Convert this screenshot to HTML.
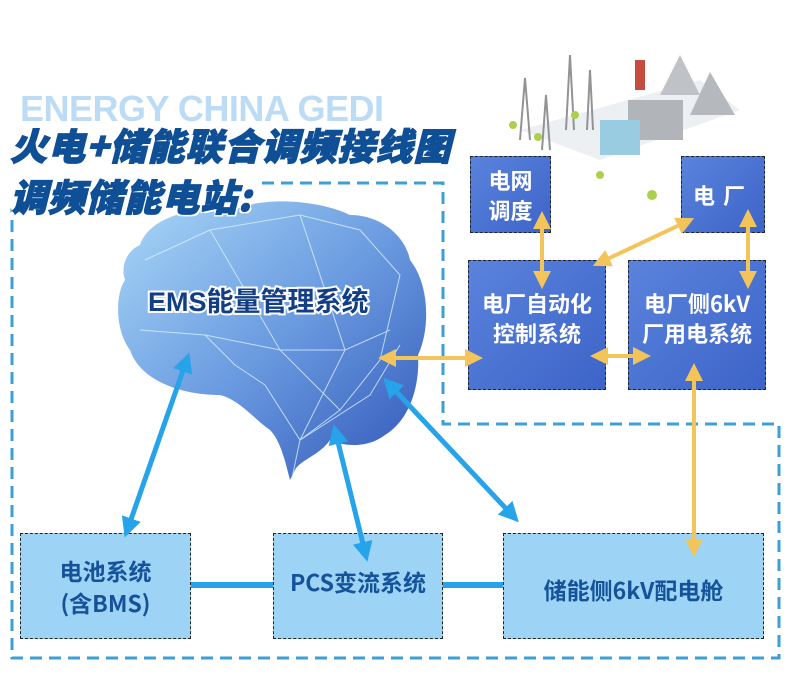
<!DOCTYPE html>
<html><head><meta charset="utf-8"><style>
body{margin:0;width:792px;height:676px;background:#fff;overflow:hidden;position:relative;font-family:"Liberation Sans","Noto Sans CJK SC",sans-serif}
.t{position:absolute;font-weight:900;font-style:italic;color:#0f4f96;font-size:37px;letter-spacing:1px;white-space:nowrap;font-family:"Noto Sans CJK SC",sans-serif;-webkit-text-stroke:1.2px #0f4f96;text-shadow:2px 2px 0 #fff,-2px -2px 0 #fff,2px -2px 0 #fff,-2px 2px 0 #fff}
.b{position:absolute;box-sizing:border-box;border:1px dashed #222;display:flex;align-items:center;justify-content:center;text-align:center;font-weight:bold;font-family:"Noto Sans CJK SC",sans-serif}
.d{background:linear-gradient(135deg,#5a83dc,#3d64c8);color:#fff;font-size:22px;line-height:30px}
.l{background:#9dd4f6;color:#15529a;font-size:23px;line-height:32px}
svg{position:absolute;left:0;top:0}
</style></head><body>
<svg width="792" height="676">
<defs>
<linearGradient id="g" x1="0" y1="0" x2="1" y2="1"><stop offset="0" stop-color="#a9d8f7"/><stop offset="0.5" stop-color="#6b9be0"/><stop offset="1" stop-color="#2f55b8"/></linearGradient>
</defs>
<g opacity="0.9">
<path d="M520 130 L700 80 L740 110 L600 160 Z" fill="#eceff2"/>
<path d="M660 95 L680 55 L700 95 Z" fill="#b9bcc0"/><path d="M690 115 L710 72 L735 115 Z" fill="#aeb1b5"/>
<rect x="635" y="60" width="10" height="30" fill="#c0392b"/>
<rect x="628" y="100" width="55" height="40" fill="#a9adb2"/>
<rect x="600" y="120" width="40" height="35" fill="#8ec7de"/>
<g stroke="#888" stroke-width="2" fill="none"><path d="M520 140 L525 78 L530 140"/><path d="M542 150 L546 95 L550 150"/><path d="M566 130 L570 55 L574 130"/><path d="M587 130 L590 70 L593 130"/></g>
<g fill="#a4cc3a"><circle cx="513" cy="125" r="4"/><circle cx="538" cy="137" r="4"/><circle cx="575" cy="115" r="4"/><circle cx="600" cy="175" r="4"/><circle cx="652" cy="195" r="5"/><circle cx="700" cy="173" r="4"/></g>
</g>
<path d="M262 183 H443 V424 H779 V658 H12 V208" fill="none" stroke="#3d9fd6" stroke-width="3" stroke-dasharray="12 7"/>
<path d="M140 245 C150 215 200 205 230 212 C260 195 320 200 350 215 C380 215 405 235 410 260 C430 285 430 330 418 355 C420 385 410 420 385 435 C365 450 340 445 330 440 C320 455 300 460 295 470 L290 480 C285 460 280 440 270 430 C255 420 240 400 220 395 C180 395 140 380 130 350 C115 330 115 295 125 280 C120 265 128 250 140 245Z" fill="url(#g)"/>
<g stroke="#d8f0ff" stroke-width="1" opacity="0.8" fill="none"><path d="M145 260 L210 230 L300 215 L360 230 L400 275 L380 360 L340 410 L300 440 L292 478"/><path d="M140 330 L205 335 L280 350 L345 350 L390 330"/><path d="M205 335 L235 365 L265 385 L300 440 L370 395 L400 345"/><path d="M210 230 L280 350 L340 410"/><path d="M300 215 L345 350 L300 440"/></g>
<text x="148" y="311" font-family="Liberation Sans,Noto Sans CJK SC,sans-serif" font-weight="bold" font-size="27" fill="#123e86" stroke="#fff" stroke-width="4" paint-order="stroke">EMS能量管理系统</text>
<g stroke="#27a3ea" stroke-width="6"><line x1="190" y1="585" x2="273" y2="585"/><line x1="443" y1="585" x2="503" y2="585"/></g>
</svg>
<div style="position:absolute;left:20px;top:88px;font-size:36px;font-weight:bold;color:#bcdcf5;letter-spacing:-0.5px">ENERGY CHINA GEDI</div>
<div class="t" style="left:10px;top:117px">火电+储能联合调频接线图</div>
<div class="t" style="left:10px;top:168px">调频储能电站:</div>
<div class="b d" style="left:470px;top:156px;width:81px;height:77px">电网<br>调度</div>
<div class="b d" style="left:681px;top:156px;width:84px;height:77px;letter-spacing:8px">电厂</div>
<div class="b d" style="left:468px;top:260px;width:138px;height:130px;padding-bottom:14px">电厂自动化<br>控制系统</div>
<div class="b d" style="left:628px;top:260px;width:138px;height:130px;padding-bottom:14px">电厂侧6kV<br>厂用电系统</div>
<div class="b l" style="left:20px;top:533px;width:171px;height:106px">电池系统<br>(含BMS)</div>
<div class="b l" style="left:273px;top:533px;width:170px;height:106px;padding-bottom:10px">PCS变流系统</div>
<div class="b l" style="left:503px;top:533px;width:261px;height:106px;padding-top:6px">储能侧6kV配电舱</div>
<svg width="792" height="676">
<defs>
<marker id="ab" viewBox="0 0 10 10" refX="5" refY="5" markerWidth="4" markerHeight="4" orient="auto-start-reverse"><path d="M0,0L10,5L0,10z" fill="#27a3ea"/></marker>
<marker id="ay" viewBox="0 0 10 10" refX="5" refY="5" markerWidth="4.5" markerHeight="4.5" orient="auto-start-reverse"><path d="M0,0L10,5L0,10z" fill="#f2c45a"/></marker>
</defs>
<g stroke="#27a3ea" stroke-width="5" marker-start="url(#ab)" marker-end="url(#ab)">
<line x1="186" y1="362" x2="128" y2="528"/><line x1="336" y1="434" x2="365" y2="552"/><line x1="390" y1="385" x2="512" y2="515"/>
</g>
<g stroke="#f2c45a" stroke-width="4" marker-start="url(#ay)" marker-end="url(#ay)">
<line x1="387" y1="358" x2="474" y2="358"/><line x1="542" y1="220" x2="542" y2="280"/><line x1="601" y1="262" x2="686" y2="222"/>
<line x1="599" y1="356" x2="642" y2="356"/><line x1="748" y1="218" x2="748" y2="280"/><line x1="694" y1="372" x2="694" y2="548"/>
</g>
</svg>
</body></html>
